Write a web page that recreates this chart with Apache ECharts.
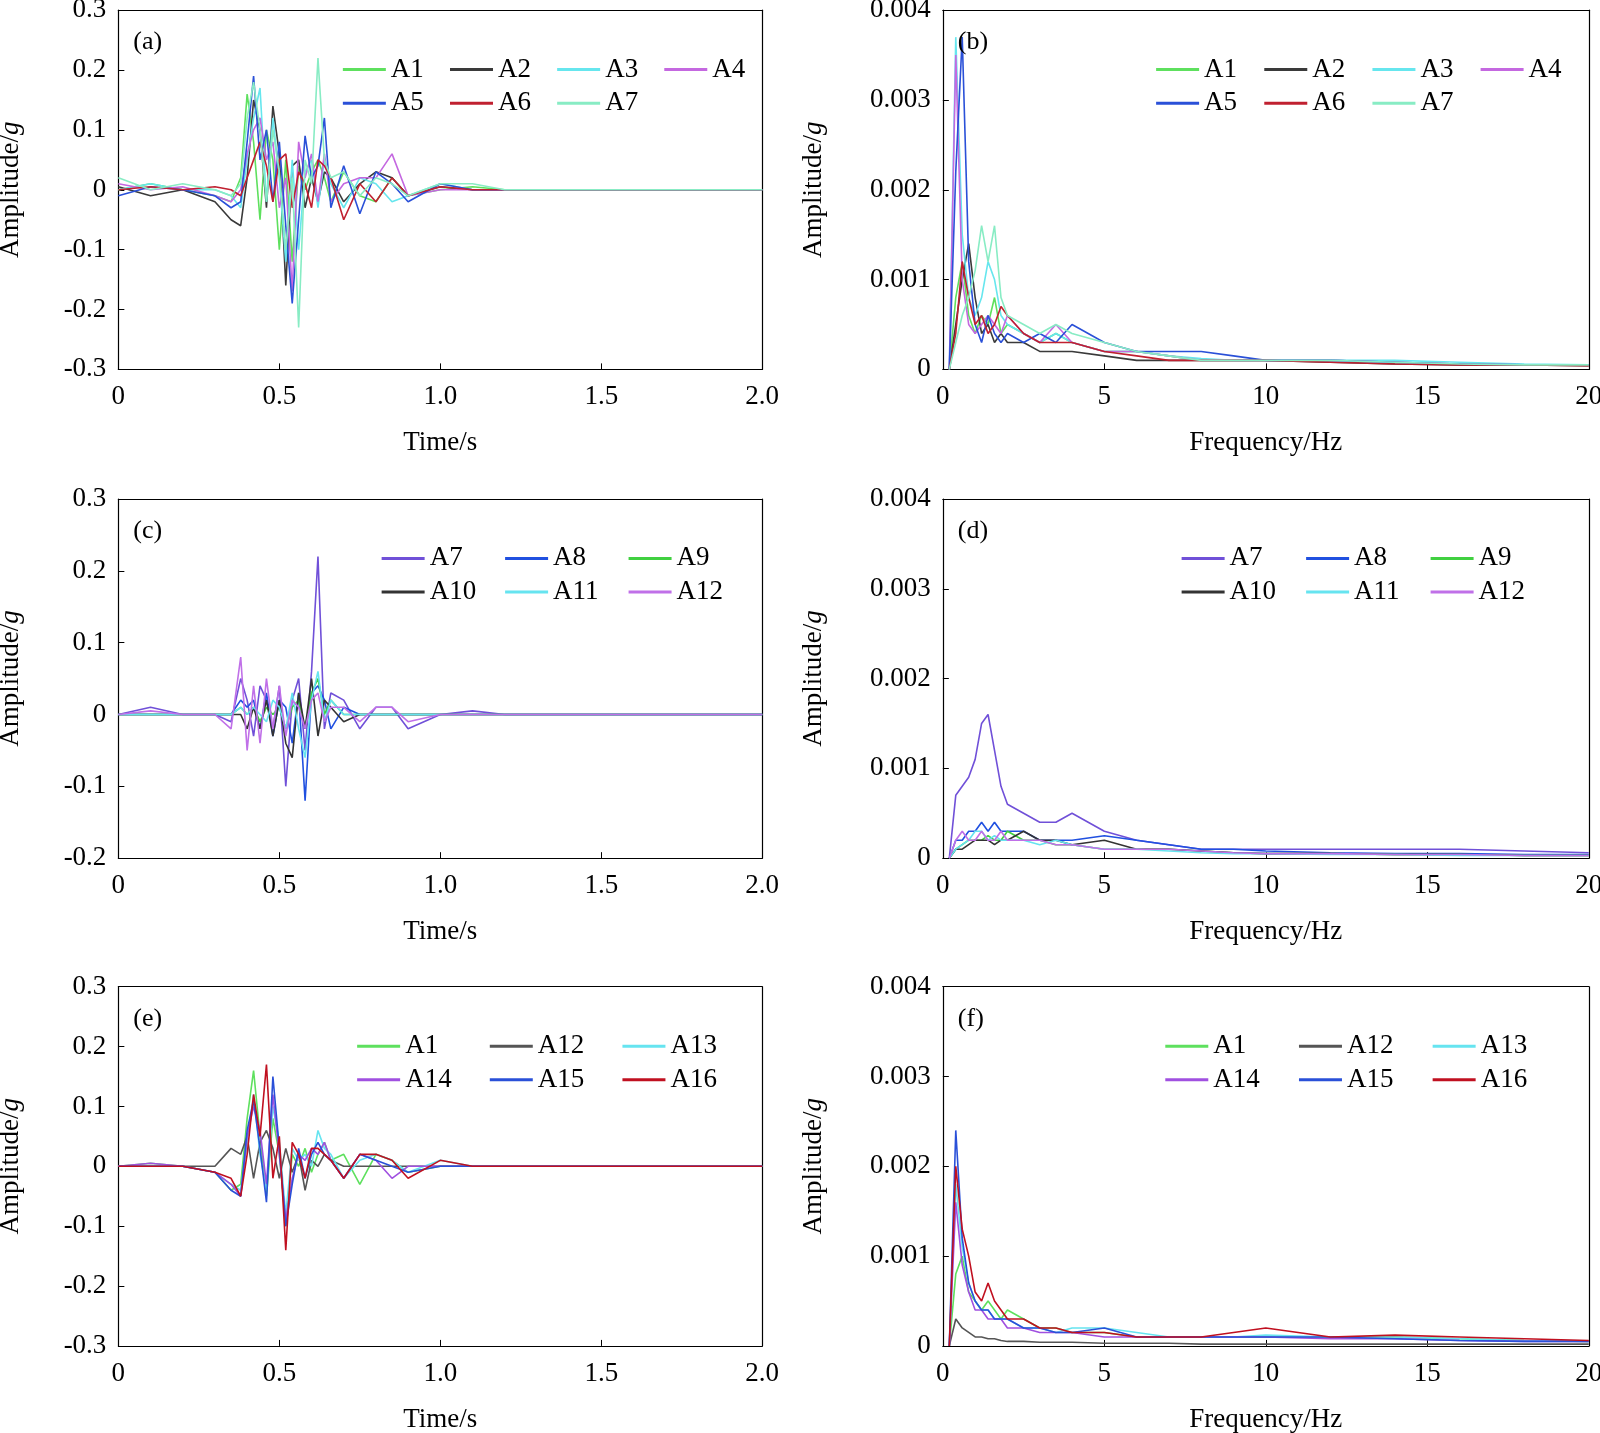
<!DOCTYPE html>
<html><head><meta charset="utf-8">
<script src="https://cdn.jsdelivr.net/npm/echarts@6/dist/echarts.min.js"></script>
<style>html,body{margin:0;background:#fff}#c{width:1600px;height:1433px}</style>
</head><body><div id="c"></div>
<script>
const tGrid=[0,0.1,0.2,0.3,0.35,0.38,0.4,0.42,0.44,0.46,0.48,0.5,0.52,0.54,0.56,0.58,0.6,0.62,0.64,0.66,0.7,0.75,0.8,0.85,0.9,1.0,1.1,1.2,1.4,1.6,2.0];
const fGrid=[0.2,0.4,0.6,0.8,1.0,1.2,1.4,1.6,1.8,2.0,2.5,3,3.5,4,5,6,7,8,9,10,12,14,16,18,20];
// panel a
const aA1=[0,0.01,0,-0.01,-0.02,0.02,0.16,0.08,-0.05,0.1,0.05,-0.1,0.05,-0.12,0.04,0,0.03,0.05,0.02,-0.02,0.03,-0.01,-0.02,0.02,-0.01,0,0.005,0,0,0,0];
const aA2=[0.005,-0.01,0,-0.02,-0.05,-0.06,0.02,0.15,0.1,-0.03,0.14,0.06,-0.16,0.04,0.05,-0.03,0.02,-0.02,0.03,0.02,-0.02,0.01,0.03,0.02,-0.01,0.005,0,0,0,0,0];
const aA3=[0,0.01,0,0,-0.01,-0.03,0.05,0.12,0.17,-0.02,0.12,0.02,-0.12,0.05,-0.1,0.03,0.05,-0.03,0.05,0.01,-0.03,0.02,0.01,-0.02,-0.01,0.01,0,0,0,0,0];
const aA4=[0.01,0,0.005,-0.01,-0.02,0,0.06,0.1,0.12,0.05,0.08,-0.03,0.02,-0.17,0.08,0.02,0.06,-0.02,0.06,-0.02,0.01,0.02,0.02,0.06,-0.01,0,0,0,0,0,0];
const aA5=[-0.01,0.005,0,-0.01,-0.03,-0.02,0.08,0.19,0.05,0.1,-0.02,0.08,-0.06,-0.19,-0.05,0.09,0.02,0.04,0.12,-0.03,0.04,-0.04,0.03,0.01,-0.02,0.01,0,0,0,0,0];
const aA6=[0,0.005,0,0.005,0,-0.01,0.02,0.05,0.08,0.04,-0.02,0.05,0.06,-0.03,0.03,0.01,-0.03,0.05,0.04,0.02,-0.05,0.01,-0.02,0.02,-0.01,0.005,0,0,0,0,0];
const aA7=[0.02,0,0.01,0,-0.01,0.01,0.12,0.18,0.1,-0.02,0.1,0.03,-0.1,0.02,-0.23,0.05,0.01,0.22,0.05,0.02,0.03,-0.01,0.02,0.01,-0.01,0.01,0.01,0,0,0,0];
// panel c
const cA7=[0,0.01,0,0,-0.01,0.05,0.02,-0.03,0.04,0.02,-0.02,0.04,-0.1,0.02,0.05,-0.05,0.06,0.22,-0.02,0.03,0.02,-0.02,0.01,0.01,-0.02,0,0.005,0,0,0,0];
const cA8=[0,0,0,0,0,0.02,0.01,0.02,-0.02,0.03,-0.03,0.02,0.01,-0.04,0.03,-0.12,0.03,0.04,0.02,-0.02,0.01,0,0,0,0,0,0,0,0,0,0];
const cA9=[0,0,0,0,0,0.01,0,0.01,-0.01,0.01,0,0.01,-0.02,0.01,0.02,-0.02,0.03,0.05,0,0.02,0,0,0,0,0,0,0,0,0,0,0];
const cA10=[0,0,0,0,0,0,-0.02,0.01,-0.02,0.02,-0.03,0.02,-0.04,-0.06,0.03,-0.02,0.05,-0.03,0.02,0.01,-0.01,0,0,0,0,0,0,0,0,0,0];
const cA11=[0,0,0,0,0,0.01,0,0.01,0,-0.01,0.02,0.01,-0.02,0.03,-0.02,-0.06,0.02,0.06,-0.01,0.02,0,0,0,0,0,0,0,0,0,0,0];
const cA12=[0,0.005,0,0,-0.02,0.08,-0.05,0.04,-0.04,0.05,-0.02,0.04,-0.03,0.02,0.01,-0.02,0.02,0.03,-0.01,0.01,0.01,-0.01,0.01,0.01,-0.01,0,0,0,0,0,0];
// panel e
const eA1=[0,0.005,0,-0.01,-0.04,-0.03,0.08,0.16,0.05,-0.05,0.08,0.02,-0.1,0.02,0,0.03,-0.01,0.02,0.04,0.01,0.02,-0.03,0.02,0.01,-0.01,0,0,0,0,0,0];
const eA12=[0,0,0,0,0.03,0.02,0.05,-0.02,0.04,0.06,0.03,-0.02,0.03,-0.01,0.02,-0.04,0.01,0,0.02,0.01,0,0,0,0,0,0,0,0,0,0,0];
const eA13=[0,0,0,-0.01,-0.03,-0.04,0.04,0.12,0.02,-0.04,0.1,0.04,-0.08,0.03,0.01,0.02,0,0.06,0.03,0.02,-0.02,0.01,0.02,0.01,-0.01,0.01,0,0,0,0,0];
const eA14=[0,0.005,0,-0.01,-0.03,-0.05,0.05,0.1,0.06,-0.03,0.12,0.02,-0.09,-0.02,0.02,0.01,0.03,0.02,0.04,0.01,-0.02,0.02,0.01,-0.02,0,0,0,0,0,0,0];
const eA15=[0,0,0,-0.01,-0.04,-0.05,0.06,0.11,0.03,-0.06,0.15,0.03,-0.1,-0.03,0.03,-0.02,0.02,0.04,0.02,0.01,-0.02,0.02,0.01,0,-0.01,0,0,0,0,0,0];
const eA16=[0,0,0,-0.01,-0.02,-0.05,0.02,0.12,0.05,0.17,-0.02,0.05,-0.14,0.04,0.02,-0.02,0.03,0.03,0.02,0.01,-0.02,0.02,0.02,0.01,-0.02,0.01,0,0,0,0,0];
// panel b
const bA1=[0,0.0008,0.0012,0.0006,0.0004,0.0006,0.0005,0.0008,0.0004,0.0005,0.0004,0.0003,0.0004,0.0003,0.0002,0.0002,0.00015,0.0001,0.0001,0.0001,0.0001,0.00008,0.00006,0.00005,0.00005];
const bA2=[0,0.0005,0.001,0.0014,0.0008,0.0004,0.0005,0.0003,0.0004,0.0003,0.0003,0.0002,0.0002,0.0002,0.00015,0.0001,0.0001,0.0001,0.0001,0.0001,0.00008,0.00006,0.00005,0.00005,0.00004];
const bA3=[0,0.0037,0.0015,0.0008,0.0006,0.0008,0.0012,0.001,0.0006,0.0005,0.0004,0.0003,0.0004,0.0003,0.0002,0.0002,0.00015,0.00012,0.0001,0.0001,0.0001,0.0001,0.00008,0.00006,0.00005];
const bA4=[0,0.0035,0.001,0.0005,0.0004,0.0005,0.0006,0.0005,0.0004,0.0006,0.0004,0.0003,0.0005,0.0003,0.0002,0.0002,0.00015,0.0001,0.0001,0.0001,0.0001,0.00008,0.00006,0.00005,0.00005];
const bA5=[0,0.0022,0.0037,0.0012,0.0005,0.0003,0.0006,0.0004,0.0003,0.0004,0.0003,0.0004,0.0003,0.0005,0.0003,0.0002,0.0002,0.0002,0.00015,0.0001,0.0001,0.00008,0.00006,0.00005,0.00005];
const bA6=[0,0.0004,0.0012,0.0008,0.0005,0.0006,0.0004,0.0005,0.0007,0.0006,0.0004,0.0003,0.0003,0.0003,0.0002,0.00015,0.0001,0.0001,0.0001,0.0001,0.00008,0.00006,0.00005,0.00005,0.00004];
const bA7=[0,0.0003,0.0006,0.0008,0.0011,0.0016,0.0012,0.0016,0.0008,0.0006,0.0005,0.0004,0.0005,0.0004,0.0003,0.0002,0.00015,0.0001,0.0001,0.0001,0.0001,0.00008,0.00006,0.00005,0.00005];
// panel d
const dA7=[0,0.0007,0.0008,0.0009,0.0011,0.0015,0.0016,0.0012,0.0008,0.0006,0.0005,0.0004,0.0004,0.0005,0.0003,0.0002,0.00015,0.0001,0.0001,0.0001,0.0001,0.0001,0.0001,0.00008,0.00006];
const dA8=[0,0.0002,0.0002,0.0003,0.0003,0.0004,0.0003,0.0004,0.0003,0.0003,0.0003,0.0002,0.0002,0.0002,0.00025,0.0002,0.00015,0.0001,0.0001,0.00008,0.00006,0.00005,0.00005,0.00004,0.00004];
const dA9=[0,0.0001,0.00015,0.0002,0.0002,0.0002,0.00025,0.0002,0.0002,0.0003,0.0002,0.0002,0.00015,0.00015,0.0001,0.0001,0.0001,0.00008,0.00006,0.00005,0.00005,0.00004,0.00004,0.00003,0.00003];
const dA10=[0,0.0001,0.0001,0.00015,0.0002,0.0002,0.0002,0.00015,0.0002,0.0002,0.0003,0.0002,0.0002,0.00015,0.0002,0.0001,0.0001,0.00008,0.00006,0.00005,0.00005,0.00004,0.00004,0.00003,0.00003];
const dA11=[0,0.0001,0.00015,0.0002,0.0003,0.0003,0.0002,0.00025,0.0002,0.0002,0.0002,0.00015,0.0002,0.00015,0.0001,0.0001,0.00008,0.00006,0.00005,0.00005,0.00004,0.00004,0.00003,0.00003,0.00003];
const dA12=[0,0.0002,0.0003,0.0002,0.0002,0.0003,0.0002,0.0002,0.0003,0.0002,0.0002,0.0002,0.00015,0.00015,0.0001,0.0001,0.0001,0.00008,0.00006,0.00005,0.00005,0.00004,0.00004,0.00003,0.00003];
// panel f
const fA1=[0,0.0008,0.001,0.0006,0.0005,0.0004,0.0005,0.0004,0.0003,0.0004,0.0003,0.0002,0.0002,0.00015,0.00015,0.0001,0.0001,0.0001,0.0001,0.0001,0.0001,0.0001,0.00008,0.00006,0.00005];
const fA12=[0,0.0003,0.0002,0.00015,0.0001,0.0001,0.00008,0.00008,0.00006,0.00005,0.00005,0.00004,0.00004,0.00004,0.00003,0.00003,0.00003,0.00002,0.00002,0.00002,0.00002,0.00002,0.00002,0.00002,0.00002];
const fA13=[0,0.0018,0.0011,0.0007,0.0005,0.0004,0.0004,0.0003,0.0003,0.0003,0.0002,0.0002,0.00015,0.0002,0.0002,0.00015,0.0001,0.0001,0.0001,0.00012,0.0001,0.0001,0.00008,0.00006,0.00005];
const fA14=[0,0.0016,0.0009,0.0006,0.0004,0.0004,0.0003,0.0003,0.0003,0.0002,0.0002,0.00015,0.00015,0.00015,0.0001,0.0001,0.0001,0.0001,0.0001,0.0001,0.00008,0.00008,0.00006,0.00005,0.00005];
const fA15=[0,0.0024,0.0012,0.0007,0.0005,0.0004,0.0004,0.0003,0.0003,0.0003,0.0002,0.0002,0.00015,0.00015,0.0002,0.0001,0.0001,0.0001,0.0001,0.0001,0.0001,0.00008,0.00006,0.00005,0.00005];
const fA16=[0,0.002,0.0013,0.001,0.0006,0.0005,0.0007,0.0005,0.0004,0.0003,0.0003,0.0002,0.0002,0.00015,0.00015,0.0001,0.0001,0.0001,0.00015,0.0002,0.0001,0.00012,0.0001,0.00008,0.00006];

const C={A1:'#5ee05e',A2:'#3a3a3a',A3:'#66e6ee',A4:'#c468e0',A5:'#2a50d8',A6:'#c02030',A7:'#88ecc4'};
const C2={A7:'#7050d8',A8:'#2050e0',A9:'#40d040',A10:'#333333',A11:'#66e4f0',A12:'#c070e8'};
const C3={A1:'#5ee05e',A12:'#555555',A13:'#66e4f0',A14:'#a050e0',A15:'#2a50d8',A16:'#c01020'};

const S=1.0204;
const panels=[
 {lbl:'(a)',type:'t',top:10,ymin:-0.3,data:{A1:aA1,A2:aA2,A3:aA3,A4:aA4,A5:aA5,A6:aA6,A7:aA7},col:C,rows:[['A1','A2','A3','A4'],['A5','A6','A7']],lx:336,sp:105},
 {lbl:'(b)',type:'f',top:10,data:{A1:bA1,A2:bA2,A3:bA3,A4:bA4,A5:bA5,A6:bA6,A7:bA7},col:C,rows:[['A1','A2','A3','A4'],['A5','A6','A7']],lx:1133,sp:106},
 {lbl:'(c)',type:'t',top:489,ymin:-0.2,data:{A7:cA7,A8:cA8,A9:cA9,A10:cA10,A11:cA11,A12:cA12},col:C2,rows:[['A7','A8','A9'],['A10','A11','A12']],lx:374,sp:121},
 {lbl:'(d)',type:'f',top:489,data:{A7:dA7,A8:dA8,A9:dA9,A10:dA10,A11:dA11,A12:dA12},col:C2,rows:[['A7','A8','A9'],['A10','A11','A12']],lx:1158,sp:122},
 {lbl:'(e)',type:'t',top:967,ymin:-0.3,data:{A1:eA1,A12:eA12,A13:eA13,A14:eA14,A15:eA15,A16:eA16},col:C3,rows:[['A1','A12','A13'],['A14','A15','A16']],lx:350,sp:130},
 {lbl:'(f)',type:'f',top:967,data:{A1:fA1,A12:fA12,A13:fA13,A14:fA14,A15:fA15,A16:fA16},col:C3,rows:[['A1','A12','A13'],['A14','A15','A16']],lx:1142,sp:131}
];
const F='Liberation Serif';
const FS=27;
const opt={animation:false,grid:[],xAxis:[],yAxis:[],series:[],legend:[],title:[]};
panels.forEach((p,i)=>{
 const isT=p.type==='t';
 const left=(isT?116:924)*S;
 const top=p.top*S;
 opt.grid.push({left:left,top:top,width:(isT?631:633)*S,height:352*S,outerBoundsMode:'none',containLabel:false});
 opt.xAxis.push({gridIndex:i,type:'value',min:0,max:isT?2:20,interval:isT?0.5:5,
  showMinLabel:isT,name:isT?'Time/s':'Frequency/Hz',nameLocation:'middle',nameGap:60,
  nameTextStyle:{fontFamily:F,fontSize:FS,color:'#000'},
  axisLine:{onZero:false,lineStyle:{color:'#000',width:1.2}},axisTick:{inside:true,length:6,lineStyle:{color:'#000'}},
  splitLine:{show:false},
  axisLabel:{fontFamily:F,fontSize:FS,color:'#000',margin:14,formatter:v=>isT?(v===0?'0':v.toFixed(1)):String(v)}});
 opt.xAxis.push({gridIndex:i,type:'value',position:'top',axisLine:{onZero:false,show:true,lineStyle:{color:'#000',width:1.2}},axisTick:{show:false},axisLabel:{show:false},splitLine:{show:false}});
 opt.yAxis.push({gridIndex:i,type:'value',min:isT?p.ymin:0,max:isT?0.3:0.004,interval:isT?0.1:0.001,
  name:'{a|Amplitude/}{b|g}',nameLocation:'middle',nameGap:isT?94:115,nameRotate:90,
  nameTextStyle:{rich:{a:{fontFamily:F,fontSize:FS,color:'#000'},b:{fontFamily:F,fontSize:FS,fontStyle:'italic',color:'#000'}}},
  axisLine:{onZero:false,show:true,lineStyle:{color:'#000',width:1.2}},axisTick:{inside:true,length:6,lineStyle:{color:'#000'}},
  splitLine:{show:false},
  axisLabel:{fontFamily:F,fontSize:FS,color:'#000',margin:12,formatter:v=>{if(Math.abs(v)<1e-9)return '0';return isT?v.toFixed(1):v.toFixed(3);}}});
 opt.yAxis.push({gridIndex:i,type:'value',position:'right',axisLine:{onZero:false,show:true,lineStyle:{color:'#000',width:1.2}},axisTick:{show:false},axisLabel:{show:false},splitLine:{show:false}});
 const xs=isT?tGrid:fGrid;
 Object.keys(p.data).forEach(k=>{
  opt.series.push({type:'line',name:k,xAxisIndex:2*i,yAxisIndex:2*i,showSymbol:false,
   data:p.data[k].map((v,j)=>[xs[j],v]),lineStyle:{width:1.6,color:p.col[k]},itemStyle:{color:p.col[k]}});
 });
 p.rows.forEach((r,ri)=>{
  r.forEach((n,ci)=>{
   opt.legend.push({data:[{name:n,itemStyle:{color:p.col[n]},lineStyle:{color:p.col[n]}}],
    left:(p.lx+ci*p.sp)*S,top:(p.top+45+ri*33)*S,itemWidth:43,itemHeight:3,itemGap:5,icon:'rect',
    selectedMode:false,padding:0,
    textStyle:{fontFamily:F,fontSize:FS,color:'#000',padding:[0,0,0,0]}});
  });
 });
 opt.title.push({text:p.lbl,left:left+10,top:top+14,textStyle:{fontFamily:F,fontSize:26,fontWeight:'normal',color:'#000'}});
});
echarts.init(document.getElementById('c')).setOption(opt);
</script></body></html>
